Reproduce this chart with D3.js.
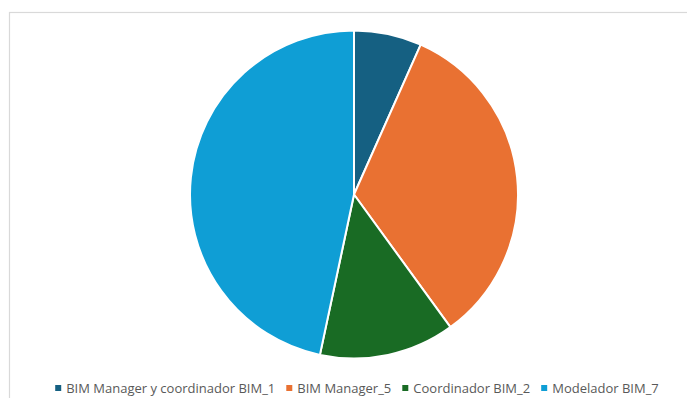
<!DOCTYPE html>
<html>
<head>
<meta charset="utf-8">
<script src="https://cdn.jsdelivr.net/npm/d3@7"></script>
<style>
  html, body { margin: 0; padding: 0; background: #fff; }
  svg { display: block; }
</style>
</head>
<body>
<svg id="chart" width="687" height="398"></svg>
<script>
// Roles and headcount per role
const categories = ["BIM Manager y coordinador BIM_1", "BIM Manager_5", "Coordinador BIM_2", "Modelador BIM_7"];
const values = [1, 5, 2, 7];
const colors = ["#156082", "#E97132", "#196B24", "#0F9ED5"];

const svg = d3.select("#chart");
const W = 687, H = 398;

// Chart area frame (clipped by the page edges on right and bottom)
svg.append("rect")
  .attr("x", 9.5).attr("y", 12.5)
  .attr("width", W + 10).attr("height", H + 10)
  .attr("fill", "#fff")
  .attr("stroke", "#d9d9d9")
  .attr("stroke-width", 1.2);

const cx = 354, cy = 194.5, r = 164;
const pie = d3.pie().sort(null).value(d => d)(values);
const arc = d3.arc().innerRadius(0).outerRadius(r);

svg.append("g")
  .attr("transform", `translate(${cx},${cy})`)
  .selectAll("path")
  .data(pie)
  .join("path")
  .attr("d", arc)
  .attr("fill", (d, i) => colors[i])
  .attr("stroke", "#fff")
  .attr("stroke-width", 2)
  .attr("stroke-linejoin", "round");

// Legend laid out in one row, centred under the pie
const legend = svg.append("g");
const fontFamily = "'Open Sans', 'Noto Sans', sans-serif";
const fontSize = 13;
const sw = 6, gapMarker = 5, gapItem = 11;
const items = categories.map((c, i) => {
  const g = legend.append("g");
  g.append("rect").attr("width", sw).attr("height", sw).attr("fill", colors[i]);
  const t = g.append("text")
    .attr("x", sw + gapMarker)
    .attr("y", sw / 2)
    .attr("dy", "0.35em")
    .attr("font-family", fontFamily)
    .attr("font-size", fontSize)
    .attr("fill", "#595959")
    .text(c);
  return { g, w: sw + gapMarker + t.node().getComputedTextLength() };
});
const total = d3.sum(items, d => d.w) + gapItem * (items.length - 1);
let x = 357 - total / 2;
items.forEach(it => {
  it.g.attr("transform", `translate(${x},${385})`);
  x += it.w + gapItem;
});
</script>
</body>
</html>
